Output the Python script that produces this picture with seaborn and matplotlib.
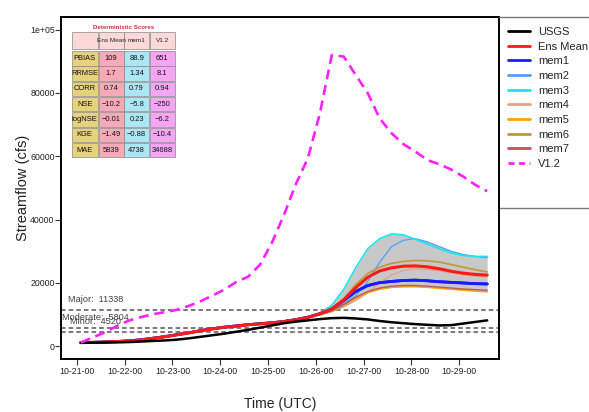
import numpy as np
import pandas as pd
import matplotlib
matplotlib.use("Agg")
import matplotlib.pyplot as plt
import matplotlib.dates as mdates
from matplotlib.lines import Line2D
from matplotlib.patches import Rectangle
import seaborn as sns

# ---------------- data ----------------
hours = np.arange(2, 207, 6)  # hours after 2019-10-21 00:00
usgs = [1100, 1150, 1200, 1250, 1350, 1500, 1700, 1850, 2100, 2500, 3000, 3500, 4000, 4600, 5200,
        5900, 6600, 7300, 7800, 8200, 8600, 8900, 9000, 8800, 8500, 8000, 7600, 7300, 7000, 6800,
        6600, 6700, 7200, 7700, 8200]
ens_mean = [1200, 1250, 1350, 1500, 1700, 2000, 2500, 3000, 3600, 4200, 4900, 5500, 6000, 6400, 6800,
            7100, 7400, 7800, 8400, 9100, 10300, 11800, 14700, 18500, 21800, 23800, 24800, 25300, 25400,
            25100, 24500, 23700, 23100, 22700, 22500]
mem1 = [1200, 1260, 1370, 1520, 1730, 2050, 2550, 3050, 3650, 4250, 4950, 5550, 6050, 6450, 6850,
        7150, 7450, 7850, 8450, 9200, 10300, 11800, 14500, 17300, 19200, 20100, 20500, 20800, 20900,
        20700, 20400, 20200, 20000, 19800, 19700]
mem2 = [1200, 1250, 1350, 1500, 1700, 2000, 2500, 3000, 3600, 4200, 4900, 5500, 6000, 6400, 6800,
        7100, 7400, 7800, 8400, 9100, 10100, 11500, 13500, 16000, 20500, 26500, 31500, 33500, 34000,
        33000, 31500, 30000, 29000, 28400, 28000]
mem3 = [1210, 1270, 1380, 1540, 1750, 2080, 2600, 3100, 3700, 4300, 5000, 5600, 6100, 6500, 6900,
        7200, 7500, 7900, 8500, 9300, 10500, 13000, 18000, 24800, 30800, 34000, 35500, 35200, 33800,
        32300, 30800, 29500, 28700, 28400, 28400]
mem4 = [1190, 1240, 1330, 1470, 1660, 1950, 2430, 2930, 3520, 4120, 4820, 5420, 5920, 6320, 6720,
        7020, 7320, 7720, 8300, 9000, 10000, 11000, 12500, 14500, 17000, 20000, 22500, 24000, 24500,
        24300, 23800, 23200, 22600, 22200, 22000]
mem5 = [1200, 1240, 1340, 1480, 1680, 1970, 2460, 2960, 3560, 4160, 4860, 5460, 5960, 6360, 6760,
        7060, 7360, 7760, 8350, 9050, 9900, 11000, 12900, 15100, 16900, 18000, 18600, 18800, 18800,
        18600, 18300, 18000, 17700, 17400, 17200]
mem6 = [1200, 1260, 1360, 1510, 1720, 2030, 2530, 3030, 3630, 4230, 4930, 5530, 6030, 6430, 6830,
        7130, 7430, 7830, 8430, 9150, 10200, 12000, 15000, 19500, 23000, 25000, 26200, 26800, 27100,
        27000, 26600, 25800, 25000, 24200, 23500]
mem7 = [1190, 1230, 1320, 1460, 1650, 1930, 2400, 2900, 3500, 4100, 4800, 5400, 5900, 6300, 6700,
        7000, 7300, 7700, 8300, 9000, 10000, 11200, 13200, 15500, 17300, 18400, 19000, 19200, 19200,
        19000, 18700, 18400, 18100, 17900, 17700]
v12 = [1200, 2800, 4400, 6400, 8100, 9200, 10100, 10800, 11500, 12700, 14200, 16000, 17900, 20300, 22000,
       25800, 32800, 41500, 51300, 59400, 73500, 92000, 91500, 85700, 80000, 72000, 67300, 63800, 61500,
       58800, 57500, 55800, 53600, 51000, 49000]

thresholds = [11338, 5804, 4520]
threshold_names = ["Major", "Moderate", "Minor"]

score_rows = ["PBIAS", "RRMSE", "CORR", "NSE", "logNSE", "KGE", "MAE"]
score_cols = ["Ens Mean", "mem1", "V1.2"]
score_ens = ["109", "1.7", "0.74", "\u221210.2", "\u22120.01", "\u22121.49", "5839"]
score_mem1 = ["88.9", "1.34", "0.79", "\u22125.8", "0.23", "\u22120.88", "4738"]
score_v12 = ["651", "8.1", "0.94", "\u2212250", "\u22126.2", "\u221210.4", "34688"]

yticks = [0, 20000, 40000, 60000, 80000, 100000]
ytick_labels = ["0", "20000", "40000", "60000", "80000", "1e+05"]

# ---------------- styling ----------------
sns.set_style("ticks")
plt.rcParams["font.family"] = ["Liberation Sans", "DejaVu Sans"]

base = pd.Timestamp("2019-10-21")
times = base + pd.to_timedelta(hours, unit="h")

members = {"mem1": mem1, "mem2": mem2, "mem3": mem3, "mem4": mem4,
           "mem5": mem5, "mem6": mem6, "mem7": mem7}
colors = {"USGS": "black", "Ens Mean": "#ff1a1a", "mem1": "#1a1aff", "mem2": "#4aa0ff",
          "mem3": "#19e6ee", "mem4": "#e8a088", "mem5": "#ffa500", "mem6": "#c09a30",
          "mem7": "#b85858", "V1.2": "#ff22ff"}
widths = {"USGS": 1.8, "Ens Mean": 2.2, "mem1": 2.0, "mem2": 0.9, "mem3": 1.2, "mem4": 1.0,
          "mem5": 1.0, "mem6": 1.2, "mem7": 1.0, "V1.2": 1.9}

fig = plt.figure(figsize=(5.89, 4.12), dpi=100)
ax = fig.add_axes([61 / 589, 1 - 359 / 412, 438 / 589, 342 / 412])

mat = np.array(list(members.values()))
ax.fill_between(times, mat.min(axis=0), mat.max(axis=0), color="#c8c8c8", lw=0, zorder=1)

for name, vals in members.items():
    sns.lineplot(x=times, y=vals, ax=ax, color=colors[name], linewidth=widths[name], zorder=2)
sns.lineplot(x=times, y=mem1, ax=ax, color=colors["mem1"], linewidth=widths["mem1"], zorder=3)
sns.lineplot(x=times, y=ens_mean, ax=ax, color=colors["Ens Mean"], linewidth=widths["Ens Mean"], zorder=3)
sns.lineplot(x=times, y=usgs, ax=ax, color=colors["USGS"], linewidth=widths["USGS"], zorder=4)
sns.lineplot(x=times, y=v12, ax=ax, color=colors["V1.2"], linewidth=widths["V1.2"], zorder=5)
ax.lines[-1].set_dashes([3.8, 2.2])

label_x = base + pd.Timedelta(hours=9.5)
for thr, nm in zip(thresholds, threshold_names):
    ax.axhline(thr, color="#555555", lw=1.1, dashes=(3, 2), zorder=1.5)
    ax.text(label_x, thr + 3400, f"{nm}:  {thr}", ha="center", va="center",
            fontsize=6.6, color="#444444", zorder=6)

ax.set_xlim(base - pd.Timedelta(days=0.33), base + pd.Timedelta(days=8.83))
ax.set_ylim(-4000, 104000)
ax.set_yticks(yticks)
ax.set_yticklabels(ytick_labels)
ax.xaxis.set_major_locator(mdates.DayLocator())
ax.xaxis.set_major_formatter(mdates.DateFormatter("%m-%d-%H"))
ax.tick_params(axis="both", direction="out", length=4, width=0.8, labelsize=6.3,
               pad=1.5, colors="#333333", labelcolor="#222222")
ax.tick_params(axis="y", pad=0.6)
for sp in ax.spines.values():
    sp.set_color("black")
    sp.set_linewidth(1.4)

ax.set_xlabel("Time (UTC)", fontsize=10, color="#222222", va="center")
ax.xaxis.set_label_coords(0.5, (359 - 404) / 342)
ax.set_ylabel("Streamflow (cfs)", fontsize=10.5, color="#222222", va="center")
ax.yaxis.set_label_coords((23 - 61) / 438, 0.5)

# legend
order = ["USGS", "Ens Mean", "mem1", "mem2", "mem3", "mem4", "mem5", "mem6", "mem7", "V1.2"]
handles = []
for nm in order:
    h = Line2D([], [], color=colors[nm], lw=2.0)
    if nm == "V1.2":
        h.set_dashes([2.2, 1.6])
    handles.append(h)
fig.legend(handles, order, loc="upper left", bbox_to_anchor=(508 / 589, 1 - 27 / 412),
           frameon=False, fontsize=8, handlelength=2.0, handletextpad=0.72,
           labelspacing=0.42, borderpad=0, borderaxespad=0)

# overlay (table + legend frame lines), pixel layout
ov = fig.add_axes([0, 0, 1, 1], zorder=10)
ov.set_xlim(0, 589)
ov.set_ylim(412, 0)
ov.axis("off")
ov.patch.set_alpha(0)
ov.plot([499, 589], [17, 17], color="#777777", lw=1.0)
ov.plot([500, 589], [208, 208], color="#777777", lw=1.0)

col_edges = [(71.7, 97.6), (98.8, 123.6), (124.4, 148.8), (149.6, 175.0)]
head_y = (32.3, 49.0)
row_top, row_h = 50.6, 15.3
head_color = "#fbd9d9"
body_colors = ["#e6d27c", "#f7a9b8", "#ace6f4", "#f4a6f4"]
ov.text(124, 27.5, "Deterministic Scores", ha="center", va="center", fontsize=4.4,
        color="#d23040", fontweight="bold")
heads = [""] + score_cols
for j, (x0, x1) in enumerate(col_edges):
    ov.add_patch(Rectangle((x0, head_y[0]), x1 - x0, head_y[1] - head_y[0], facecolor=head_color,
                           edgecolor="#888888", lw=0.5))
    ov.text((x0 + x1) / 2, (head_y[0] + head_y[1]) / 2, heads[j], ha="center", va="center",
            fontsize=4.6, color="#222222")
columns = [score_rows, score_ens, score_mem1, score_v12]
for i in range(len(score_rows)):
    y0 = row_top + i * row_h
    for j, (x0, x1) in enumerate(col_edges):
        ov.add_patch(Rectangle((x0, y0 + 0.4), x1 - x0, row_h - 0.8, facecolor=body_colors[j],
                               edgecolor="#888888", lw=0.5))
        ov.text((x0 + x1) / 2, y0 + row_h / 2, columns[j][i], ha="center", va="center",
                fontsize=5.4, color="#111111")

fig.savefig("out.png", dpi=100, facecolor="white")
